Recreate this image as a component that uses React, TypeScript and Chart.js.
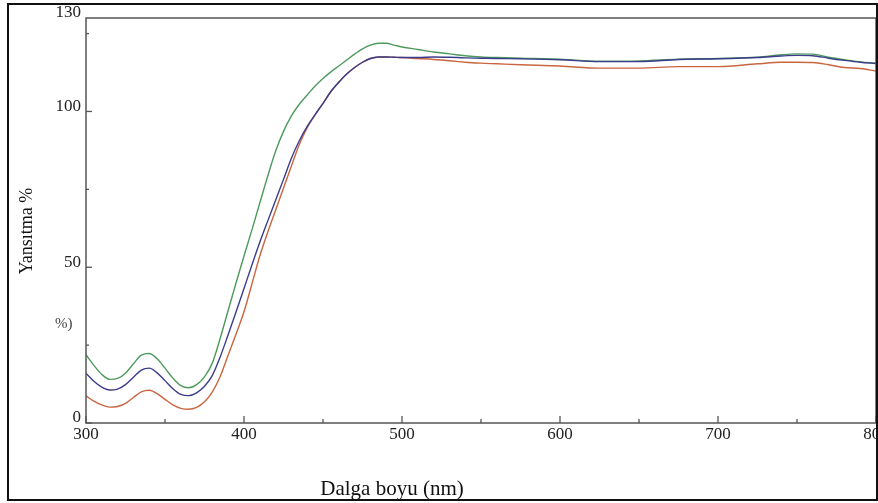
import React, { useEffect, useRef } from 'react';
import { Chart, registerables } from 'chart.js';

Chart.register(...registerables);

// ---- Data ----
const wavelengths = [
  300, 305, 310, 315, 320, 325, 330, 335, 340, 345, 350, 355, 360, 365, 370, 375, 380, 385, 390, 395,
  400, 405, 410, 415, 420, 425, 430, 435, 440, 445, 450, 455, 460, 465, 470, 475, 480, 485, 490, 495,
  500, 510, 520, 530, 540, 550, 560, 575, 600, 625, 650, 675, 700, 725, 740, 750, 760, 770, 780, 790, 800,
];

const greenValues = [
  21.9, 18.5, 15.6, 14.0, 14.3, 16.0, 19.0, 21.8, 22.3, 20.6, 17.6, 14.4, 12.0, 11.3, 12.3, 14.8, 19.3, 27.3, 36.2, 45.0,
  53.6, 62.0, 70.6, 79.2, 87.2, 93.6, 98.6, 102.3, 105.3, 108.2, 110.6, 112.7, 114.6, 116.5, 118.4, 120.1, 121.3, 121.9, 121.9, 121.3,
  120.7, 119.9, 119.1, 118.5, 117.9, 117.5, 117.3, 117.1, 116.8, 116.1, 116.2, 116.8, 117.0, 117.4, 118.2, 118.5, 118.4, 117.4, 116.6, 115.9, 115.5,
];

const blueValues = [
  16.0, 13.4, 11.5, 10.6, 10.9, 12.3, 14.7, 17.0, 17.6, 16.1, 13.6, 11.0, 9.2, 8.8, 9.7, 11.8, 15.3, 21.3, 28.4, 35.7,
  43.2, 50.7, 58.0, 64.8, 71.5, 78.2, 85.0, 90.6, 95.2, 99.0, 102.6, 106.4, 109.4, 112.0, 114.1, 115.8, 117.0, 117.5, 117.5, 117.4,
  117.3, 117.3, 117.5, 117.4, 117.2, 117.1, 117.0, 116.9, 116.6, 116.0, 116.0, 116.7, 116.9, 117.3, 117.8, 118.0, 117.9, 117.1, 116.4, 115.8, 115.4,
];

const redValues = [
  8.7, 7.0, 5.8, 5.1, 5.3, 6.3, 8.2, 10.0, 10.5, 9.4, 7.6, 5.8, 4.7, 4.4, 5.0, 6.8, 10.0, 15.0, 21.8, 28.6,
  35.7, 44.6, 53.6, 61.2, 68.3, 75.4, 82.5, 89.4, 94.8, 98.9, 102.6, 106.4, 109.4, 112.0, 114.1, 115.8, 117.0, 117.5, 117.5, 117.4,
  117.3, 117.0, 116.7, 116.3, 115.8, 115.5, 115.3, 115.0, 114.6, 113.9, 113.9, 114.4, 114.4, 115.3, 115.8, 115.8, 115.7, 115.0, 114.1, 113.8, 113.0,
];

const xTickValues = [300, 350, 400, 450, 500, 550, 600, 650, 700, 750, 800];
const xLabeledTicks = [300, 400, 500, 600, 700, 800];
const yTickValues = [0, 25, 50, 75, 100, 125, 130];
const yLabeledTicks = [0, 50, 100, 130];

const xTitle = 'Dalga boyu (nm)';
const yTitle = 'Yansıtma %';
const strayText = '%)';

const FONT = '"Liberation Serif", "Times New Roman", serif';

const framePlugin = {
  id: 'framePlugin',
  afterDraw(chart: any) {
    const { ctx, chartArea } = chart;
    const xs = chart.scales.x;
    const ys = chart.scales.y;
    ctx.save();
    // frame
    ctx.strokeStyle = '#555';
    ctx.lineWidth = 1.5;
    ctx.strokeRect(chartArea.left, chartArea.top, chartArea.right - chartArea.left, chartArea.bottom - chartArea.top);
    // inward ticks on x
    ctx.lineWidth = 1.3;
    xTickValues.forEach((v) => {
      const px = xs.getPixelForValue(v);
      const len = xLabeledTicks.includes(v) ? 7 : 4;
      ctx.beginPath();
      ctx.moveTo(px, chartArea.bottom);
      ctx.lineTo(px, chartArea.bottom - len);
      ctx.stroke();
    });
    // inward ticks on y
    yTickValues.forEach((v) => {
      if (v === 130) return;
      const py = ys.getPixelForValue(v);
      const len = yLabeledTicks.includes(v) ? 6 : 3;
      ctx.beginPath();
      ctx.moveTo(chartArea.left, py);
      ctx.lineTo(chartArea.left + len, py);
      ctx.stroke();
    });
    // x title
    ctx.fillStyle = '#111';
    ctx.font = `21px ${FONT}`;
    ctx.textAlign = 'center';
    ctx.textBaseline = 'alphabetic';
    ctx.fillText(xTitle, 392, 495);
    // y title
    ctx.save();
    ctx.translate(27, 231);
    ctx.rotate(-Math.PI / 2);
    ctx.font = `18px ${FONT}`;
    ctx.textAlign = 'center';
    ctx.textBaseline = 'middle';
    ctx.fillText(yTitle, 0, 0);
    ctx.restore();
    // stray text
    ctx.fillStyle = '#444';
    ctx.font = `15px ${FONT}`;
    ctx.textAlign = 'left';
    ctx.textBaseline = 'middle';
    ctx.fillText(strayText, 55, 324);
    ctx.restore();
  },
};

function makeData(values: number[]) {
  return wavelengths.map((w, i) => ({ x: w, y: values[i] }));
}

export default function App() {
  const ref = useRef<HTMLCanvasElement>(null);
  useEffect(() => {
    const canvas = ref.current;
    if (!canvas) return;
    const chart = new Chart(canvas, {
      type: 'line',
      data: {
        datasets: [
          { label: 'B', data: makeData(blueValues), borderColor: '#3b3d8c', borderWidth: 1.4, pointRadius: 0, cubicInterpolationMode: 'monotone', fill: false },
          { label: 'G', data: makeData(greenValues), borderColor: '#4e9a5c', borderWidth: 1.4, pointRadius: 0, cubicInterpolationMode: 'monotone', fill: false },
          { label: 'R', data: makeData(redValues), borderColor: '#c9653f', borderWidth: 1.4, pointRadius: 0, cubicInterpolationMode: 'monotone', fill: false },
        ],
      },
      options: {
        responsive: false,
        devicePixelRatio: 1,
        animation: false,
        events: [],
        layout: { padding: { top: 18, right: 2, left: 0, bottom: 0 } },
        plugins: { legend: { display: false }, tooltip: { enabled: false } },
        scales: {
          x: {
            type: 'linear',
            min: 300,
            max: 800,
            grid: { display: false, drawTicks: false },
            border: { display: false },
            afterBuildTicks: (s: any) => {
              s.ticks = xTickValues.map((v) => ({ value: v }));
            },
            afterFit: (s: any) => {
              s.height = 80;
              s.paddingLeft = 0;
              s.paddingRight = 0;
            },
            ticks: {
              autoSkip: false,
              maxRotation: 0,
              padding: 1,
              color: '#222',
              font: { family: FONT, size: 17 },
              callback: (v: any) => (xLabeledTicks.includes(Number(v)) ? String(v) : ''),
            },
          },
          y: {
            type: 'linear',
            min: 0,
            max: 130,
            grid: { display: false, drawTicks: false },
            border: { display: false },
            afterBuildTicks: (s: any) => {
              s.ticks = yTickValues.map((v) => ({ value: v }));
            },
            afterFit: (s: any) => {
              s.width = 86;
              s.paddingTop = 0;
              s.paddingBottom = 0;
            },
            ticks: {
              autoSkip: false,
              padding: 5,
              labelOffset: -5,
              color: '#222',
              font: { family: FONT, size: 17 },
              callback: (v: any) => (yLabeledTicks.includes(Number(v)) ? String(v) : ''),
            },
          },
        },
      },
      plugins: [framePlugin],
    } as any);
    return () => chart.destroy();
  }, []);

  return (
    <div style={{ position: 'fixed', left: 0, top: 0, width: 878, height: 503, background: '#fff' }}>
      <canvas ref={ref} width={878} height={503} style={{ position: 'absolute', left: 0, top: 0, width: 878, height: 503 }} />
      <div
        style={{
          position: 'absolute',
          left: 7,
          top: 3,
          width: 871,
          height: 498,
          border: '2px solid #111',
          boxSizing: 'border-box',
          pointerEvents: 'none',
        }}
      />
    </div>
  );
}
